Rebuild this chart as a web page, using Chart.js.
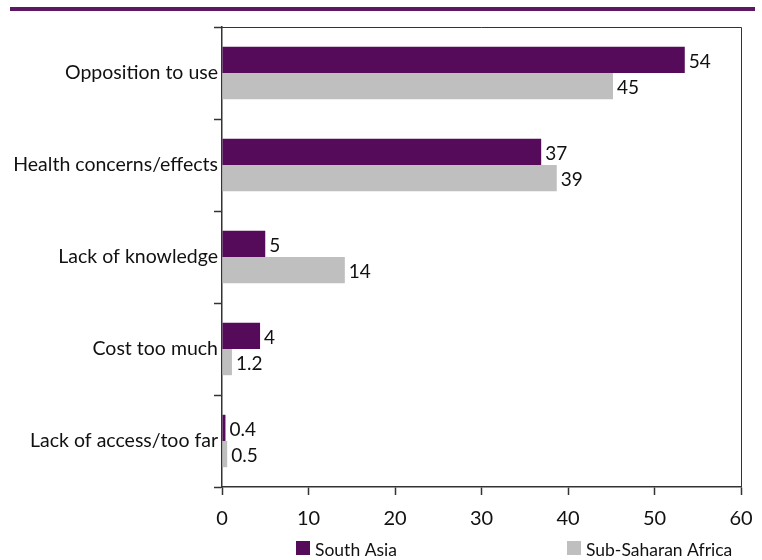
<!DOCTYPE html>
<html>
<head>
<meta charset="utf-8">
<script src="https://cdn.jsdelivr.net/npm/chart.js@4"></script>
<style>
  html, body { margin: 0; padding: 0; background: #fff; }
</style>
</head>
<body>
<canvas id="reasonsChart" width="762" height="560"></canvas>
<script>
// Reasons for not using contraception, by region (%)
const categories = ['Opposition to use', 'Health concerns/effects', 'Lack of knowledge', 'Cost too much', 'Lack of access/too far'];
const seriesNames = ['South Asia', 'Sub-Saharan Africa'];
const southAsia = [53.5, 36.9, 5, 4.4, 0.4];
const subSaharan = [45.2, 38.7, 14.2, 1.15, 0.6];
const southAsiaLabels = ['54', '37', '5', '4', '0.4'];
const subSaharanLabels = ['45', '39', '14', '1.2', '0.5'];
const xTicks = [0, 10, 20, 30, 40, 50, 60];

const purple = '#560a5a';
const grey = '#bfbfc0';
const fontFamily = 'Lato, "Open Sans", sans-serif';

// frame, top rule, value labels and legend
const decorations = {
    id: 'decorations',
    afterDatasetsDraw(chart) {
        const ctx = chart.ctx;
        const area = chart.chartArea;
        ctx.save();

        // purple rule at top of the page
        ctx.fillStyle = '#5e1863';
        ctx.fillRect(10, 7, 745, 4);

        // thin frame top + right
        ctx.strokeStyle = '#333';
        ctx.lineWidth = 1;
        ctx.beginPath();
        ctx.moveTo(area.left, area.top + 0.5);
        ctx.lineTo(area.right + 0.5, area.top + 0.5);
        ctx.lineTo(area.right + 0.5, area.bottom);
        ctx.stroke();

        // value labels
        ctx.font = '19px ' + fontFamily;
        ctx.fillStyle = '#111';
        ctx.textBaseline = 'middle';
        ctx.textAlign = 'left';
        const labelSets = [southAsiaLabels, subSaharanLabels];
        chart.data.datasets.forEach((ds, di) => {
            chart.getDatasetMeta(di).data.forEach((bar, i) => {
                ctx.fillText(labelSets[di][i], bar.x + 4, bar.y + 2);
            });
        });

        // legend
        const legendY = 549;
        const items = [{ x: 296, color: purple, text: seriesNames[0] },
                       { x: 567, color: grey, text: seriesNames[1] }];
        ctx.font = '17.5px ' + fontFamily;
        items.forEach(it => {
            ctx.fillStyle = it.color;
            ctx.fillRect(it.x, legendY - 8, 14, 14);
            ctx.fillStyle = '#111';
            ctx.fillText(it.text, it.x + 19, legendY + 1);
        });
        ctx.restore();
    }
};

const ctx = document.getElementById('reasonsChart').getContext('2d');
const reasonsChart = new Chart(ctx, {
    type: 'bar',
    data: {
        labels: categories,
        datasets: [
            {
                label: seriesNames[0],
                data: southAsia,
                backgroundColor: purple,
                categoryPercentage: 0.57,
                barPercentage: 1.0
            },
            {
                label: seriesNames[1],
                data: subSaharan,
                backgroundColor: grey,
                categoryPercentage: 0.57,
                barPercentage: 1.0
            }
        ]
    },
    options: {
        indexAxis: 'y',
        responsive: false,
        animation: false,
        devicePixelRatio: 1,
        layout: {
            padding: { left: 0, right: 21, top: 27, bottom: 33 }
        },
        scales: {
            x: {
                min: 0,
                max: 60,
                afterBuildTicks(scale) {
                    scale.ticks = xTicks.map(v => ({ value: v }));
                },
                afterFit(scale) {
                    scale.height = 40;
                    scale.paddingRight = 0;
                    scale.paddingLeft = 0;
                },
                border: { color: '#333', width: 1.5 },
                grid: { drawOnChartArea: false, color: '#333', tickLength: 8, tickWidth: 1.5 },
                ticks: {
                    color: '#111',
                    padding: 12,
                    maxRotation: 0,
                    minRotation: 0,
                    autoSkip: false,
                    font: { family: fontFamily, size: 20 }
                }
            },
            y: {
                afterFit(scale) { scale.width = 222; },
                border: { color: '#333', width: 1.5 },
                grid: { drawOnChartArea: false, offset: true, color: '#333', tickLength: 8, tickWidth: 1.5 },
                ticks: {
                    color: '#111',
                    padding: -4,
                    autoSkip: false,
                    font: { family: fontFamily, size: 19.5 }
                }
            }
        },
        plugins: {
            legend: { display: false },
            tooltip: { enabled: false }
        }
    },
    plugins: [decorations]
});
</script>
</body>
</html>
